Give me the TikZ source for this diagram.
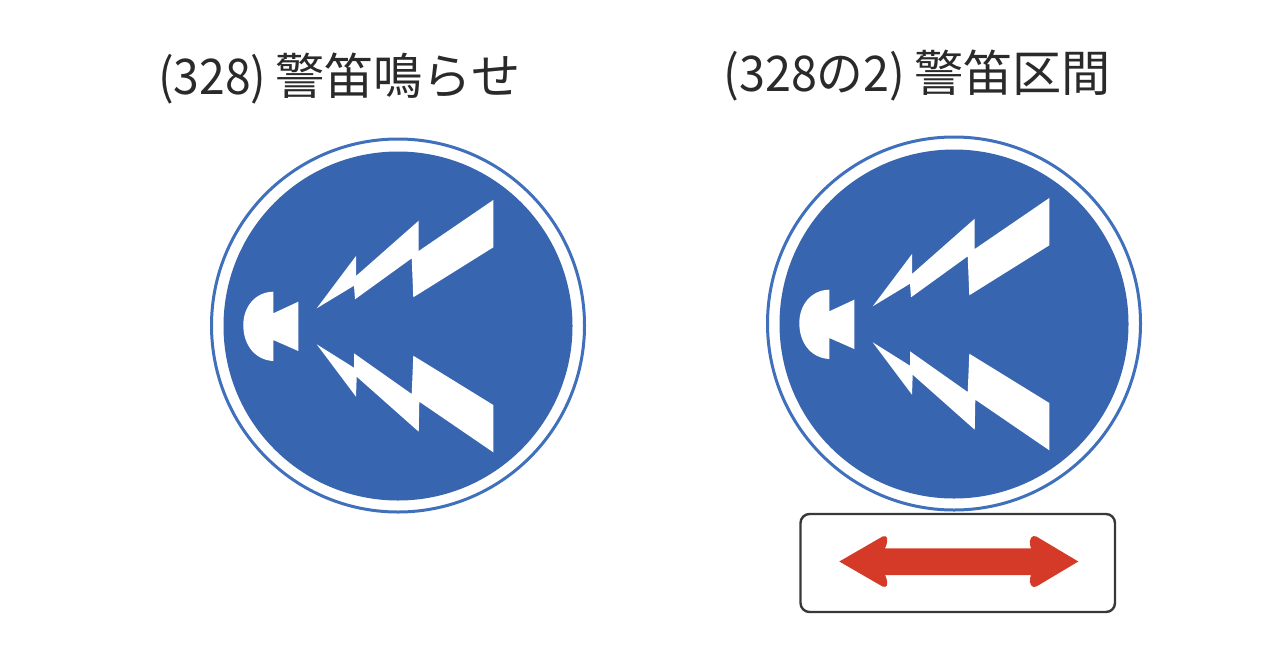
\documentclass[tikz,border=0pt]{standalone}
\usepackage{fontspec}
\newfontfamily\cjk{Noto Sans CJK JP}
\definecolor{signblue}{HTML}{3865AF}
\definecolor{ringblue}{HTML}{4070BC}
\definecolor{arrowred}{HTML}{D53A28}
\definecolor{titlegray}{HTML}{2A2A2A}
\begin{document}
\begin{tikzpicture}[x=0.02cm, y=-0.02cm, title node/.style={anchor=base west,inner sep=0,text=titlegray,font=\cjk\fontsize{28pt}{28pt}\selectfont},
    ring/.style={draw=ringblue,line width=3*0.02cm,fill=white}, disc/.style={fill=signblue}, mark part/.style={fill=white}]

    \useasboundingbox (0,0) rectangle (1280,670);

    \node[title node] at (158,94) (title a) {\scalebox{0.94}[1]{(328)}};
    \node[title node] at (275,94) (name a) {警笛鳴らせ};
    \node[title node] at (723,91) (title b) {\scalebox{0.95}[1]{(328の2)}};
    \node[title node] at (914,91) (name b) {警笛区間};

    \foreach \dx/\dy in {0/0, 556/-2} {
        \begin{scope}[shift={(\dx,\dy)}]
            \draw[ring] (398,325.5) circle[radius=186.5];
            \fill[disc] (398,326) circle[radius=174.5];
            \fill[mark part] (273.3,291.7) .. controls (255,292) and (243.3,307) .. (243.3,325)
                .. controls (243.3,345) and (255,360) .. (273.3,361)
                -- (273.3,340) -- (298.3,351) -- (298.3,301.7) -- (273.3,313.3) -- cycle;
            \fill[mark part] (316.7,308.3) -- (356,256) -- (356,276) -- (418.7,220.7) -- (418.7,251)
                -- (493.3,200) -- (493.3,247.3) -- (413.3,297.3) -- (411.7,258.3)
                -- (355,299.3) -- (354,285.7) -- cycle;
            \fill[mark part] (316.7,344.3) -- (354,367.7) -- (354,353.3) -- (411.7,394) -- (413.3,355.7)
                -- (493.3,405) -- (493.3,452.3) -- (419.3,401.7) -- (418.7,431.7)
                -- (356.7,376.7) -- (356,396.7) -- cycle;
        \end{scope}
    }

    \draw[draw=black!78, line width=2.4*0.02cm, rounded corners=9*0.02cm] (800.5,514) rectangle (1115,612);
    \fill[arrowred] (839.3,561.5) [rounded corners=4*0.02cm] -- (886,534.5) -- (888,541) [sharp corners] -- (885,548.3)
        -- (1031,548.3) [rounded corners=4*0.02cm] -- (1029,541) -- (1033,534.5) [sharp corners] -- (1078.3,561.5)
        [rounded corners=4*0.02cm] -- (1033,588.5) -- (1029,582) [sharp corners] -- (1031,575)
        -- (885,575) [rounded corners=4*0.02cm] -- (888,582) -- (886,588.5) [sharp corners] -- cycle;
\end{tikzpicture}
\end{document}
